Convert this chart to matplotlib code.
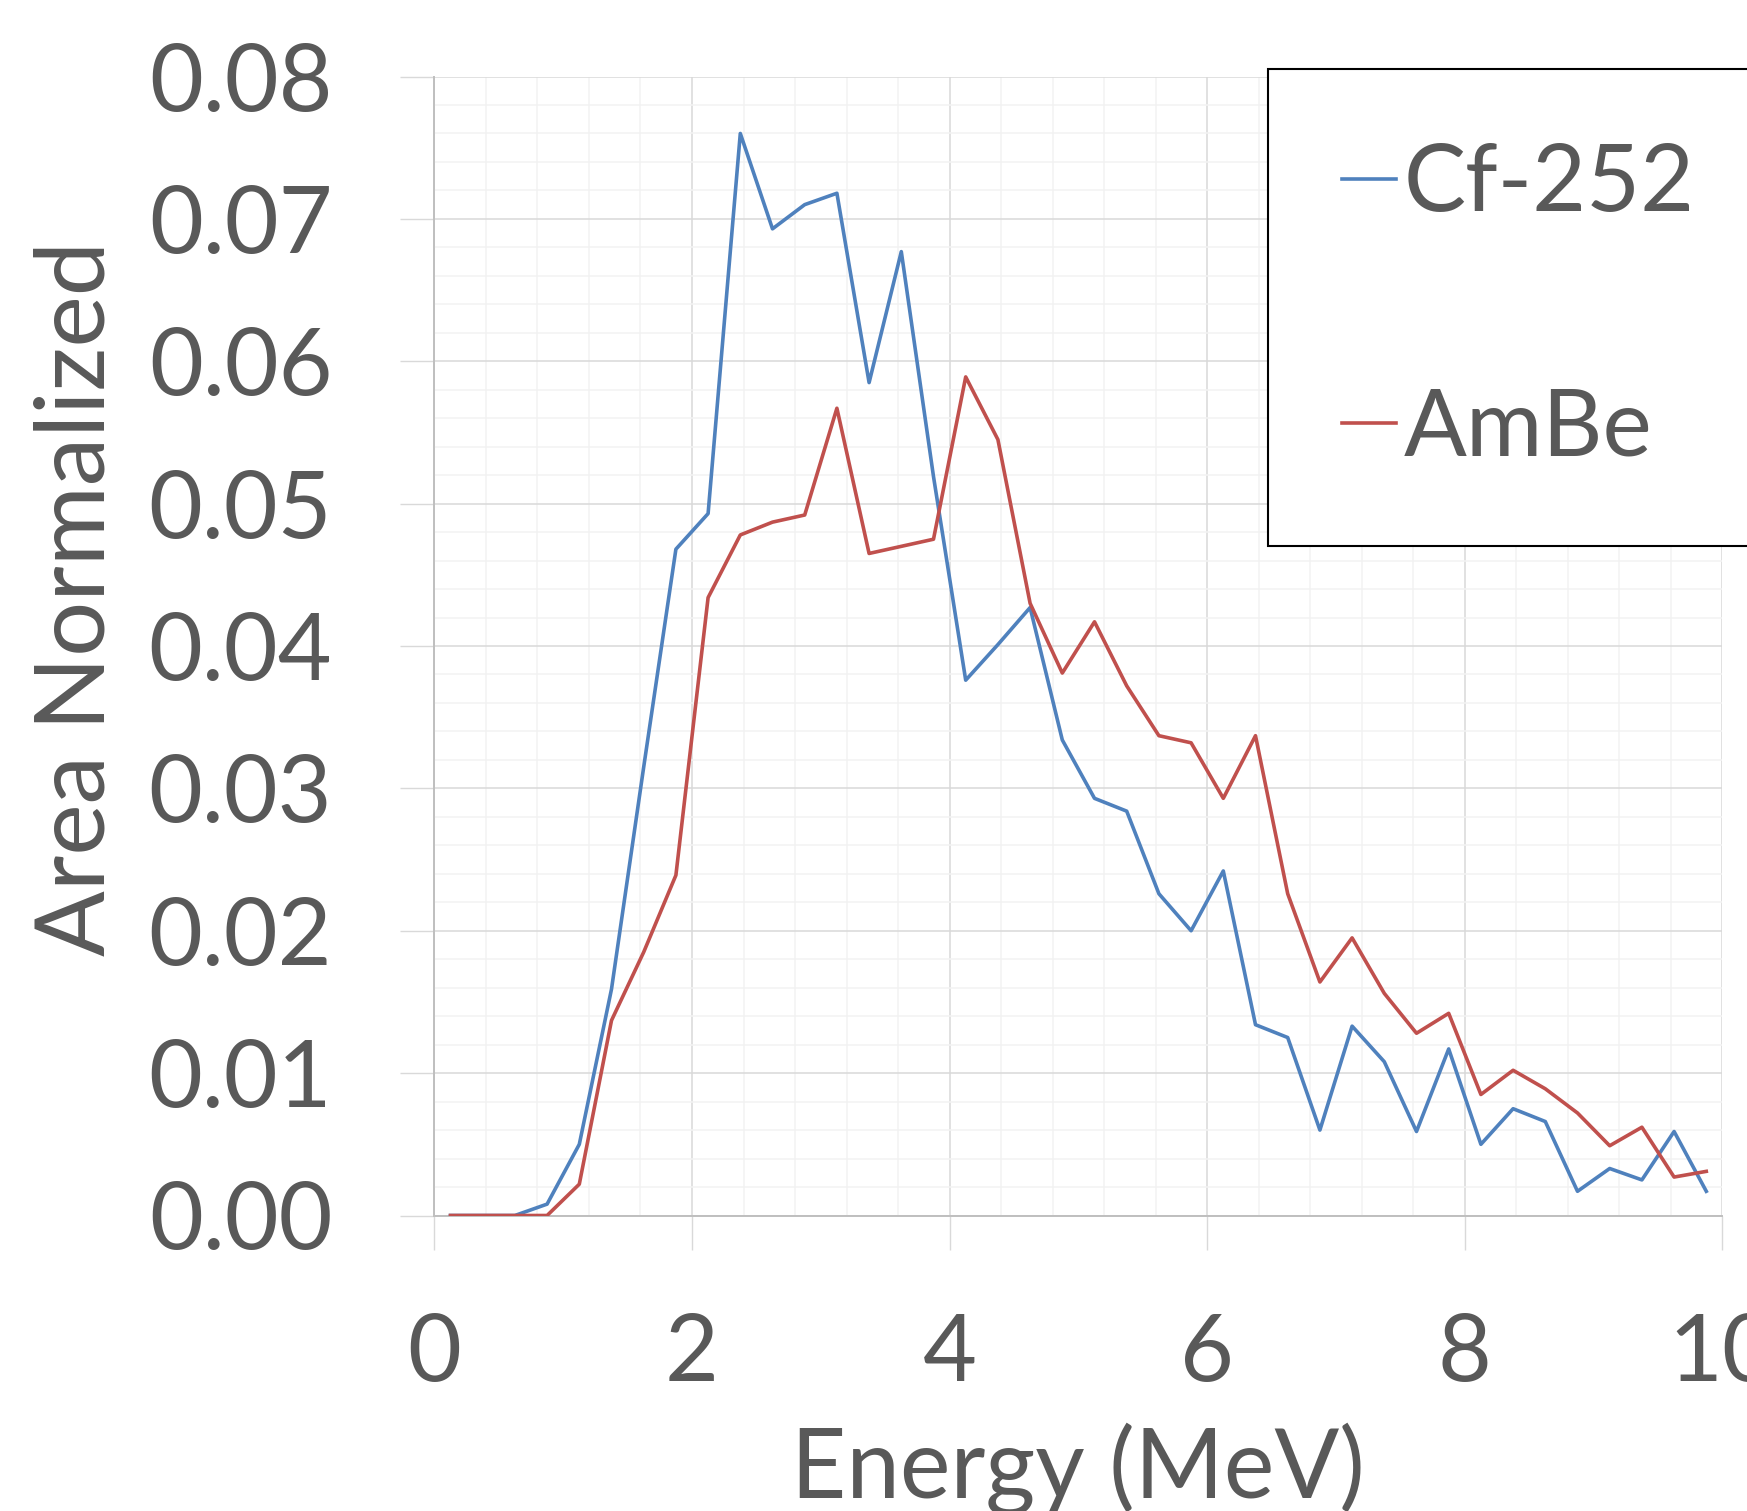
import matplotlib
matplotlib.use('Agg')
import matplotlib.pyplot as plt
from matplotlib.ticker import MultipleLocator, FormatStrFormatter

# bin centres (MeV)
energy = [0.125, 0.375, 0.625, 0.875, 1.125, 1.375, 1.625, 1.875, 2.125, 2.375,
          2.625, 2.875, 3.125, 3.375, 3.625, 3.875, 4.125, 4.375, 4.625, 4.875,
          5.125, 5.375, 5.625, 5.875, 6.125, 6.375, 6.625, 6.875, 7.125, 7.375,
          7.625, 7.875, 8.125, 8.375, 8.625, 8.875, 9.125, 9.375, 9.625, 9.875]

cf252 = [0.0, 0.0, 0.0, 0.0008, 0.0050, 0.0159, 0.0315, 0.0468, 0.0493, 0.0760,
         0.0693, 0.0710, 0.0718, 0.0585, 0.0677, 0.0519, 0.0376, 0.0401, 0.0427, 0.0334,
         0.0293, 0.0284, 0.0226, 0.0200, 0.0242, 0.0134, 0.0125, 0.0060, 0.0133, 0.0108,
         0.0059, 0.0117, 0.0050, 0.0075, 0.0066, 0.0017, 0.0033, 0.0025, 0.0059, 0.0017]

ambe = [0.0, 0.0, 0.0, 0.0, 0.0022, 0.0137, 0.0185, 0.0239, 0.0434, 0.0478,
        0.0487, 0.0492, 0.0567, 0.0465, 0.0470, 0.0475, 0.0589, 0.0545, 0.0430, 0.0381,
        0.0417, 0.0372, 0.0337, 0.0332, 0.0293, 0.0337, 0.0226, 0.0164, 0.0195, 0.0156,
        0.0128, 0.0142, 0.0085, 0.0102, 0.0089, 0.0072, 0.0049, 0.0062, 0.0027, 0.0031]

series_names = ['Cf-252', 'AmBe']
series_colours = ['#4F81BD', '#C0504D']

TEXT_COLOUR = '#595959'
FONT = 'Lato'
FS = 67
W, H = 1747, 1511

plt.rcParams['font.family'] = FONT

fig = plt.figure(figsize=(W / 100, H / 100), dpi=100)
ax = fig.add_axes([434.4 / W, 1 - 1215.5 / H, 1288 / W, 1139 / H])

ax.plot(energy, cf252, color=series_colours[0], lw=2.6, label=series_names[0], zorder=3)
ax.plot(energy, ambe, color=series_colours[1], lw=2.6, label=series_names[1], zorder=3)

ax.set_xlim(0, 10)
ax.set_ylim(0, 0.08)
ax.xaxis.set_major_locator(MultipleLocator(2))
ax.xaxis.set_minor_locator(MultipleLocator(0.4))
ax.yaxis.set_major_locator(MultipleLocator(0.01))
ax.yaxis.set_minor_locator(MultipleLocator(0.002))
ax.yaxis.set_major_formatter(FormatStrFormatter('%.2f'))

ax.grid(which='major', color='#D9D9D9', lw=1.1)
ax.grid(which='minor', color='#F2F2F2', lw=1.1)
ax.set_axisbelow(True)

for side in ['top', 'right']:
    ax.spines[side].set_visible(False)
for side in ['left', 'bottom']:
    ax.spines[side].set_color('#BFBFBF')
    ax.spines[side].set_linewidth(1.4)

ax.tick_params(which='major', direction='out', length=24.5, width=1.0, color='#D9D9D9',
               labelsize=FS, labelcolor=TEXT_COLOUR)
ax.tick_params(axis='y', pad=49)
ax.tick_params(axis='x', pad=46)
ax.tick_params(which='minor', length=0)

fig.text(1078 / W, 1 - 1498 / H, 'Energy (MeV)', ha='center', va='baseline',
         fontsize=69, color=TEXT_COLOUR)
fig.text(105 / W, 1 - 598 / H, 'Area Normalized', rotation=90, rotation_mode='anchor',
         ha='center', va='baseline', fontsize=70, color=TEXT_COLOUR)

lgd = ax.legend(loc='upper left', bbox_to_anchor=(1268 / W, 1 - 69 / H),
                bbox_transform=fig.transFigure, fontsize=FS, frameon=True,
                fancybox=False, edgecolor='black', framealpha=1,
                handlelength=0.58, handletextpad=0.08, borderpad=0.8,
                labelspacing=1.72, borderaxespad=0)
lgd.get_frame().set_linewidth(1.5)
for t in lgd.get_texts():
    t.set_color(TEXT_COLOUR)

fig.savefig('out.png', dpi=100)
